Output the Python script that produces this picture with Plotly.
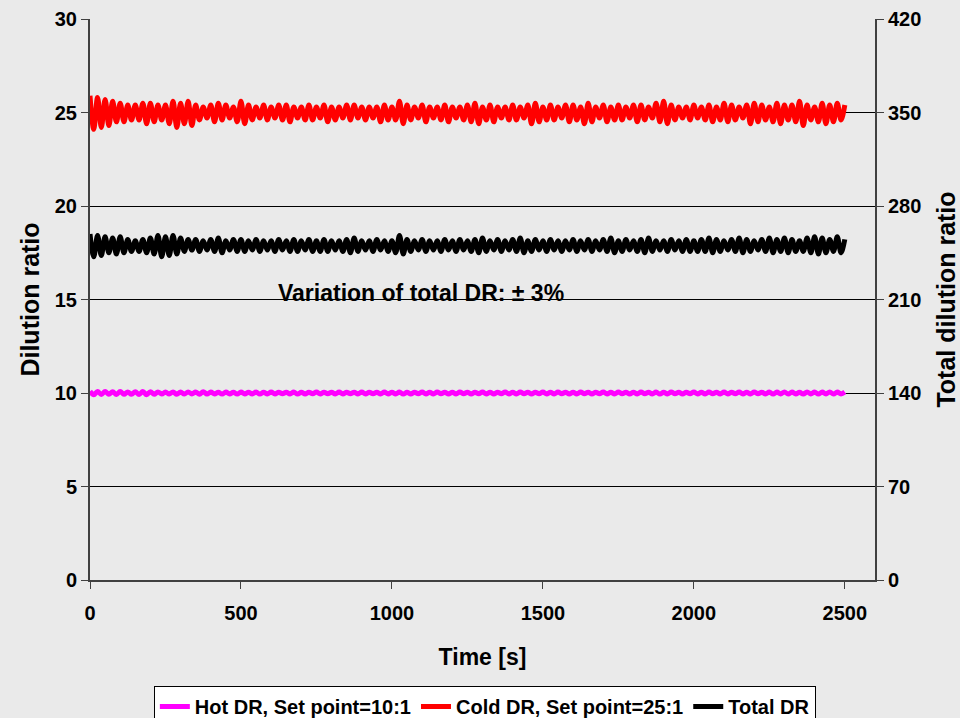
import plotly.graph_objects as go

# Time axis [s] (sample every 12.5 s)
time_s = [i * 12.5 for i in range(201)]

# Cold DR (left axis)
cold_dr = [
    25.9,24.1,25.8,24.2,25.7,24.3,25.6,24.5,25.5,24.5,25.4,24.6,25.4,24.6,25.5,24.4,25.5,24.5,25.4,24.6,25.4,
    24.4,25.6,24.2,25.5,24.4,25.6,24.3,25.4,24.6,25.3,24.7,25.4,24.5,25.5,24.6,25.4,24.7,25.3,24.5,25.6,
    24.4,25.4,24.6,25.3,24.7,25.4,24.6,25.3,24.7,25.4,24.6,25.4,24.5,25.3,24.7,25.3,24.6,25.4,24.6,25.3,
    24.7,25.4,24.5,25.3,24.6,25.3,24.7,25.4,24.6,25.4,24.7,25.3,24.6,25.3,24.7,25.3,24.5,25.4,24.6,25.3,
    24.6,25.6,24.4,25.4,24.6,25.3,24.7,25.4,24.5,25.3,24.7,25.3,24.6,25.4,24.5,25.3,24.7,25.3,24.6,25.4,
    24.5,25.5,24.4,25.3,24.6,25.4,24.5,25.3,24.7,25.3,24.6,25.4,24.6,25.3,24.7,25.4,24.4,25.5,24.5,25.3,
    24.6,25.4,24.6,25.3,24.7,25.4,24.5,25.4,24.6,25.3,24.4,25.5,24.5,25.3,24.7,25.4,24.5,25.3,24.6,25.4,
    24.6,25.3,24.7,25.4,24.5,25.4,24.6,25.3,24.7,25.5,24.5,25.6,24.4,25.4,24.6,25.3,24.7,25.3,24.6,25.4,
    24.7,25.3,24.6,25.4,24.5,25.3,24.6,25.5,24.5,25.4,24.6,25.3,24.7,25.4,24.4,25.5,24.5,25.4,24.6,25.3,
    24.5,25.5,24.4,25.4,24.6,25.4,24.5,25.6,24.3,25.4,24.6,25.3,24.5,25.5,24.4,25.4,24.5,25.5,24.6,25.4,
]

# Hot DR (left axis)
hot_dr = [
    10.09,9.91,10.08,9.92,10.08,9.93,10.07,9.92,10.08,9.93,10.06,9.93,10.07,9.92,10.08,9.91,10.07,9.93,10.06,9.94,10.05,
    9.94,10.06,9.93,10.05,9.94,10.06,9.95,10.05,9.93,10.07,9.94,10.05,9.95,10.04,9.94,10.05,9.95,10.04,9.94,10.05,
    9.95,10.04,9.95,10.05,9.94,10.04,9.95,10.05,9.95,10.04,9.96,10.04,9.95,10.05,9.94,10.04,9.95,10.04,9.96,10.05,
    9.95,10.04,9.96,10.04,9.95,10.05,9.95,10.04,9.96,10.04,9.95,10.05,9.95,10.04,9.96,10.04,9.95,10.05,9.95,10.04,
    9.95,10.05,9.94,10.04,9.95,10.04,9.96,10.05,9.95,10.04,9.95,10.05,9.96,10.04,9.95,10.04,9.95,10.05,9.96,10.04,
    9.95,10.04,9.96,10.05,9.95,10.04,9.95,10.04,9.96,10.05,9.95,10.04,9.95,10.05,9.96,10.04,9.95,10.04,9.96,10.05,
    9.95,10.04,9.95,10.05,9.96,10.04,9.95,10.04,9.95,10.05,9.96,10.04,9.95,10.04,9.96,10.05,9.95,10.04,9.95,10.05,
    9.96,10.04,9.95,10.04,9.95,10.05,9.96,10.04,9.95,10.05,9.94,10.04,9.95,10.05,9.96,10.04,9.95,10.04,9.96,10.05,
    9.95,10.04,9.95,10.05,9.96,10.04,9.95,10.05,9.95,10.04,9.96,10.05,9.95,10.04,9.95,10.05,9.96,10.04,9.95,10.05,
    9.94,10.05,9.95,10.06,9.94,10.05,9.95,10.04,9.94,10.06,9.95,10.05,9.94,10.05,9.95,10.06,9.94,10.05,9.95,10.05,
]

# Total DR (right axis)
total_dr = [
    259,242,258,243,257,245,256,244,257,245,255,246,254,246,255,245,256,244,258,242,257,
    243,258,244,256,246,255,247,255,246,254,247,255,246,256,245,254,247,255,246,255,
    246,254,247,255,246,254,247,254,246,255,247,254,246,255,246,254,247,255,246,254,
    246,255,246,254,247,254,246,255,245,256,246,254,247,254,246,255,247,254,246,254,
    245,258,244,255,246,254,247,255,246,254,247,254,246,255,247,254,246,255,247,254,
    246,255,245,256,246,254,247,255,246,254,247,255,246,256,245,254,246,255,247,254,
    246,255,247,254,246,254,247,255,246,254,247,255,246,254,247,255,246,256,245,254,
    246,255,247,254,246,255,245,256,246,254,247,254,246,255,247,254,246,255,246,254,
    246,255,246,256,245,255,246,254,247,255,246,256,245,255,246,254,247,255,246,256,
    245,255,246,256,245,255,246,254,246,256,245,257,244,256,245,255,246,257,245,255,
]

x_ticks = [0, 500, 1000, 1500, 2000, 2500]
left_ticks = [0, 5, 10, 15, 20, 25, 30]
right_ticks = [0, 70, 140, 210, 280, 350, 420]

BG = "#EAEAEA"
FONT = "Liberation Sans, Arial, sans-serif"
NARROW = "Liberation Sans Narrow, Arial Narrow, Liberation Sans"

fig = go.Figure()
fig.add_trace(go.Scatter(x=time_s, y=hot_dr, mode="lines", name="<b>Hot DR, Set point=10:1</b>",
                         line=dict(color="#FF00FF", width=5, shape="spline")))
fig.add_trace(go.Scatter(x=time_s, y=cold_dr, mode="lines", name="<b>Cold DR, Set point=25:1</b>",
                         line=dict(color="#FF0000", width=5, shape="spline")))
fig.add_trace(go.Scatter(x=time_s, y=total_dr, mode="lines", name="<b>Total DR</b>", yaxis="y2",
                         line=dict(color="#000000", width=5, shape="spline")))

fig.add_annotation(x=1095, y=15.35, xref="x", yref="y", text="<b>Variation of total DR: ± 3%</b>",
                   showarrow=False, font=dict(family=FONT, size=23, color="#000000"))

axis_common = dict(showline=True, linecolor="#404040", linewidth=2,
                   ticklen=7, tickcolor="#404040", zeroline=False, automargin=False,
                   tickfont=dict(size=20))

fig.update_layout(
    width=960, height=718,
    paper_bgcolor=BG, plot_bgcolor=BG,
    margin=dict(l=90, r=85, t=19, b=138, autoexpand=False),
    font=dict(family=FONT, color="#000000"),
    xaxis=dict(range=[0, 2600], tickvals=x_ticks, ticktext=[f"<b>{v}</b>" for v in x_ticks],
               showgrid=False, ticks="outside", ticklabelstandoff=7,
               title=dict(text="<b>Time [s]</b>", font=dict(size=23), standoff=26),
               **axis_common),
    yaxis=dict(range=[0, 30], tickvals=left_ticks, ticktext=[f"<b>{v}</b>" for v in left_ticks],
               showgrid=True, gridcolor="#000000", gridwidth=1, ticks="outside",
               title=dict(text="<b>Dilution ratio</b>", font=dict(size=25), standoff=8),
               **axis_common),
    yaxis2=dict(range=[0, 420], tickvals=right_ticks, ticktext=[f"<b>{v}</b>" for v in right_ticks],
                overlaying="y", side="right", anchor="x", showgrid=False, ticks="outside",
                title=dict(text="<b>Total dilution ratio</b>", font=dict(size=25), standoff=18),
                **axis_common),
    legend=dict(orientation="h", x=0.503, xanchor="center", y=-0.189, yanchor="top",
                bgcolor="#FFFFFF", bordercolor="#000000", borderwidth=1,
                font=dict(family=NARROW, size=20),
                itemwidth=30, tracegroupgap=0),
    showlegend=True,
)

fig.write_html(
    "out.html",
    config={"displayModeBar": False},
    post_script="document.body.style.margin='0px';document.body.style.background='#EAEAEA';"
                "document.documentElement.style.overflow='hidden';",
)
